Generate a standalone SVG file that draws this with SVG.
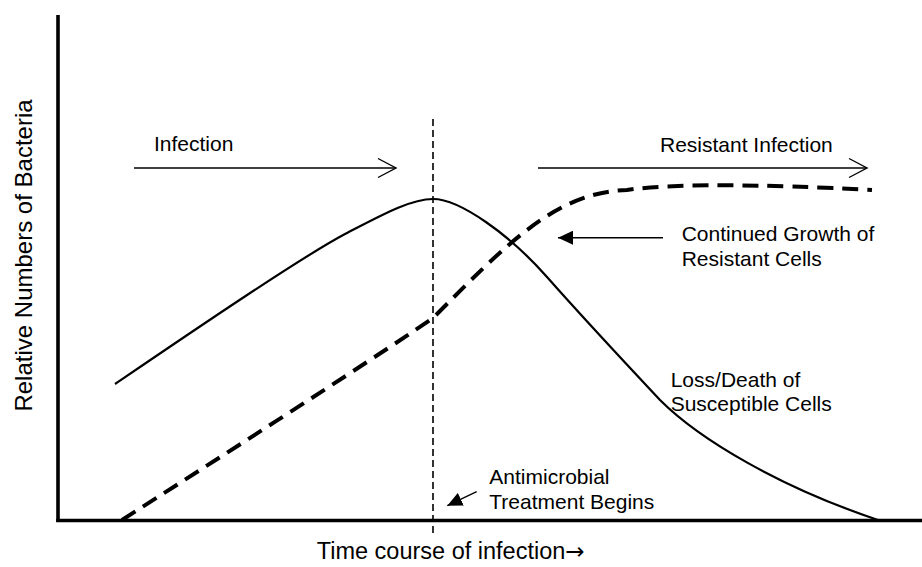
<svg xmlns="http://www.w3.org/2000/svg" width="922" height="567" viewBox="0 0 922 567">
<style>
text{font-family:"Liberation Sans",Arial,sans-serif;font-size:21px;fill:#000}
.axis{stroke:#000;stroke-width:3.6;fill:none}
.arrow{stroke:#000;stroke-width:1.4;fill:none}
.solid{stroke:#000;stroke-width:2.2;fill:none}
.dashed{stroke:#000;stroke-width:4;fill:none;stroke-dasharray:16 9}
.vdash{stroke:#000;stroke-width:1.6;fill:none;stroke-dasharray:7 4}
</style>
<defs>
<marker id="openHead" viewBox="0 0 20 22" refX="18" refY="10" markerWidth="20" markerHeight="22" markerUnits="userSpaceOnUse" orient="auto" overflow="visible">
<path d="M0,0.5 L18,10 L0,19.5" fill="none" stroke="#000" stroke-width="1.4"/>
</marker>
<marker id="solidHead" viewBox="0 0 15 14" refX="15" refY="7" markerWidth="15" markerHeight="14" markerUnits="userSpaceOnUse" orient="auto">
<path d="M0,0 L15,7 L0,14 z" fill="#000"/>
</marker>
</defs>
<rect width="922" height="567" fill="#fff"/>
<g id="axes">
<line class="axis" x1="58" y1="15" x2="58" y2="522"/>
<line class="axis" x1="56.2" y1="520.5" x2="922" y2="520.5"/>
<text x="316.7" y="559.3" style="font-size:23.5px">Time course of infection<tspan style="font-family:'DejaVu Sans',sans-serif;font-size:23px">→</tspan></text>
<text transform="translate(32,255.5) rotate(-90)" text-anchor="middle" style="font-size:24px">Relative Numbers of Bacteria</text>
</g>
<g id="treatment-line">
<line class="vdash" x1="433" y1="119" x2="433" y2="533"/>
</g>
<g id="susceptible-curve">
<path class="solid" d="M115,384 C190,333 300,258 345,234 C380,216 410,199 433,199 C460,199 510,235 547,277 C577,311 630,368 660,400 C700,440 780,487 878,520"/>
</g>
<g id="resistant-curve">
<path class="dashed" d="M122,520 C200,470 360,368 433,318 C505,246 555,192 627,190 C670,183.5 760,184 872,190"/>
</g>
<g id="connectors">
<line class="arrow" x1="134" y1="168" x2="396" y2="168" marker-end="url(#openHead)"/>
<line class="arrow" x1="538" y1="168" x2="867" y2="168" marker-end="url(#openHead)"/>
<line class="arrow" x1="663" y1="237.7" x2="558" y2="237.7" marker-end="url(#solidHead)"/>
<line class="arrow" x1="476.7" y1="491.7" x2="447.3" y2="505.7" marker-end="url(#solidHead)"/>
</g>
<g id="label-infection">
<text x="154" y="151">Infection</text>
</g>
<g id="label-resistant-infection">
<text x="660" y="151.7">Resistant Infection</text>
</g>
<g id="label-continued-growth">
<text x="681.7" y="241">Continued Growth of</text>
<text x="681.7" y="265.7">Resistant Cells</text>
</g>
<g id="label-loss-death">
<text x="670.7" y="387.3">Loss/Death of</text>
<text x="670.7" y="410.7">Susceptible Cells</text>
</g>
<g id="label-antimicrobial">
<text x="489.3" y="484">Antimicrobial</text>
<text x="489.3" y="509">Treatment Begins</text>
</g>
</svg>
